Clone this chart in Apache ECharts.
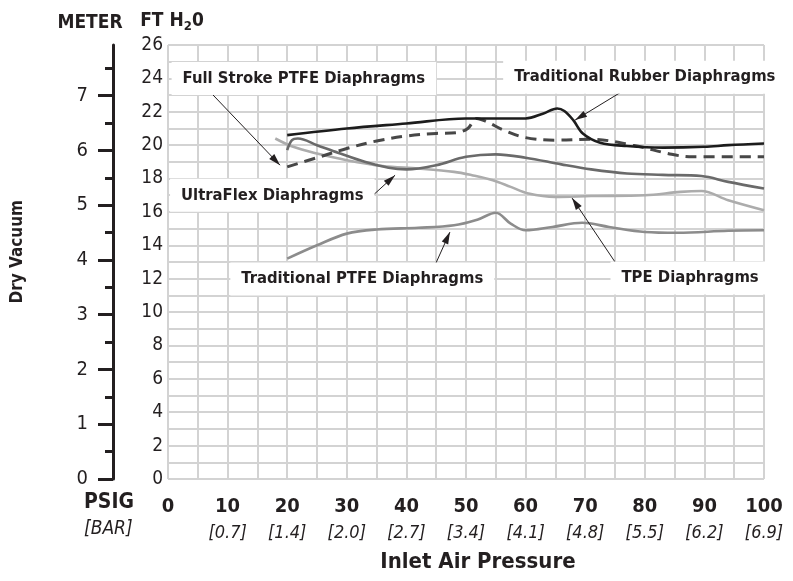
<!DOCTYPE html>
<html>
<head>
<meta charset="utf-8">
<script src="https://cdn.jsdelivr.net/npm/echarts@6/dist/echarts.min.js"></script>
<style>
  html, body { margin: 0; padding: 0; background: #fff; }
  #chart { width: 793px; height: 581px; }
</style>
</head>
<body>
<div id="chart"></div>
<script>
// Dry vacuum (ft of water) against inlet air pressure (psig) for five diaphragm types.
const FONT = "'Liberation Sans Narrow', 'DejaVu Sans Condensed', 'DejaVu Sans', sans-serif";
const FT_PER_METER = 3.28084;
const FT_MAX = 26;

const psigTicks = [0, 10, 20, 30, 40, 50, 60, 70, 80, 90, 100];
const barLabels = ['', '[0.7]', '[1.4]', '[2.0]', '[2.7]', '[3.4]', '[4.1]', '[4.8]', '[5.5]', '[6.2]', '[6.9]'];
const meterMajor = [0, 1, 2, 3, 4, 5, 6, 7];
const meterMinor = [0.5, 1.5, 2.5, 3.5, 4.5, 5.5, 6.5, 7.5];

// [psig, ft H2O]
const rubber = [[20, 20.6], [30, 21.0], [40, 21.3], [50, 21.6], [55, 21.6], [60, 21.6], [63, 21.9],
  [65.3, 22.2], [66.5, 22.05], [68, 21.5], [69.6, 20.7], [72.5, 20.15], [77, 19.95], [83, 19.85],
  [90, 19.9], [94, 20.0], [100, 20.1]];
const fullStroke = [[20, 18.7], [25, 19.25], [30, 19.8], [35, 20.25], [40, 20.55], [45, 20.7],
  [48.5, 20.75], [50.3, 21.0], [51.8, 21.6], [53.5, 21.4], [56.3, 20.9], [60, 20.45], [65, 20.3],
  [71, 20.35], [78, 20.0], [84.5, 19.45], [88, 19.3], [100, 19.3]];
const ultraFlex = [[20, 19.7], [20.8, 20.3], [21.8, 20.4], [25, 20.0], [28.5, 19.55], [33, 19.0],
  [37, 18.65], [40, 18.55], [45, 18.8], [50, 19.3], [55, 19.45], [60, 19.25], [66, 18.85],
  [71, 18.55], [77, 18.3], [83, 18.22], [89.5, 18.15], [94, 17.8], [100, 17.4]];
const tpe = [[18, 20.4], [21, 19.9], [25, 19.5], [30, 19.1], [36, 18.75], [42, 18.6], [48, 18.4],
  [51, 18.2], [54.5, 17.9], [57.5, 17.5], [60.5, 17.1], [65, 16.9], [71, 16.95], [80, 17.0],
  [86, 17.2], [89.5, 17.25], [94, 16.7], [100, 16.1]];
const tradPtfe = [[20, 13.2], [25, 14.0], [30, 14.7], [35, 14.95], [42, 15.05], [48, 15.2],
  [52, 15.55], [55, 15.95], [57.5, 15.3], [60, 14.9], [64.5, 15.1], [69.5, 15.35], [74, 15.1],
  [80, 14.8], [85.5, 14.75], [94, 14.87], [100, 14.9]];

// Callout text anchors and arrow (tail -> tip), in [psig, ft] coordinates
const calloutNames = ['Full Stroke PTFE Diaphragms', 'Traditional Rubber Diaphragms',
  'UltraFlex Diaphragms', 'Traditional PTFE Diaphragms', 'TPE Diaphragms'];
const calloutAt = [[22.8, 24.0], [80.0, 24.07], [17.5, 17.0], [32.6, 11.98], [87.6, 12.04]];
const arrowFrom = [[6.5, 23.4], [76.8, 23.35], [33.7, 16.77], [44.8, 12.81], [75.7, 12.63]];
const arrowTo = [[18.8, 18.8], [68.3, 21.5], [38.1, 18.2], [47.3, 14.79], [67.8, 16.83]];

const GRID_COLOR = '#d3d3d3';
const INK = '#231f20';

function curve(name, data, color, width, type) {
  return {
    name, type: 'line', data, smooth: 0.35, showSymbol: false, silent: true,
    lineStyle: { color, width, type: type || 'solid', cap: 'butt' },
    z: 3
  };
}

const chart = echarts.init(document.getElementById('chart'), null, { renderer: 'canvas' });

chart.setOption({
  animation: false,
  backgroundColor: '#fff',
  textStyle: { fontFamily: FONT, color: INK },
  grid: { left: 168, top: 45, width: 596, height: 434 },
  xAxis: {
    type: 'value', min: 0, max: 100, interval: 5,
    axisLine: { show: false }, axisTick: { show: false },
    splitLine: { show: true, lineStyle: { color: GRID_COLOR, width: 2 } },
    axisLabel: {
      margin: 14,
      formatter: v => {
        const i = psigTicks.indexOf(v);
        if (i < 0) return '';
        return `{p|${v}}\n{b|${barLabels[i] || ' '}}`;
      },
      rich: {
        p: { fontFamily: FONT, fontWeight: 'bold', fontSize: 20, lineHeight: 27, color: INK },
        b: { fontFamily: FONT, fontStyle: 'italic', fontSize: 18, lineHeight: 27, color: INK }
      }
    },
    name: 'Inlet Air Pressure', nameLocation: 'middle', nameGap: 72,
    nameTextStyle: { fontFamily: FONT, fontWeight: 'bold', fontSize: 22, color: INK, padding: [0, 0, 0, 24] }
  },
  yAxis: [
    {
      type: 'value', min: 0, max: FT_MAX, interval: 1, position: 'left',
      axisLine: { show: false }, axisTick: { show: false },
      splitLine: { show: true, lineStyle: { color: GRID_COLOR, width: 2 } },
      axisLabel: {
        margin: 5, fontFamily: FONT, fontSize: 19, color: INK,
        formatter: v => (v % 2 === 0 ? String(v) : '')
      },
      name: 'FT H{s|2}0', nameLocation: 'end', nameGap: 12,
      nameTextStyle: {
        fontFamily: FONT, fontWeight: 'bold', fontSize: 19, color: INK, padding: [0, 0, 0, 8],
        rich: { s: { fontFamily: FONT, fontWeight: 'bold', fontSize: 13, color: INK, padding: [10, 0, 0, 0] } }
      }
    },
    {
      type: 'value', min: 0, max: FT_MAX / FT_PER_METER, position: 'left', offset: 55,
      splitLine: { show: false },
      axisLine: { show: true, lineStyle: { color: INK, width: 3 } },
      axisTick: { show: true, length: 15, customValues: meterMajor, lineStyle: { color: INK, width: 3 } },
      axisLabel: { margin: 25, fontFamily: FONT, fontSize: 20, color: INK, customValues: meterMajor },
      name: 'METER', nameLocation: 'end', nameGap: 12,
      nameTextStyle: { fontFamily: FONT, fontWeight: 'bold', fontSize: 19, color: INK, padding: [0, 46, 0, 0] }
    },
    {
      type: 'value', min: 0, max: FT_MAX / FT_PER_METER, position: 'left', offset: 55,
      splitLine: { show: false }, axisLine: { show: false }, axisLabel: { show: false },
      axisTick: { show: true, length: 8, customValues: meterMinor, lineStyle: { color: INK, width: 3 } }
    }
  ],
  series: [
    curve('Traditional PTFE Diaphragms', tradPtfe, '#8c8c8c', 2.6),
    curve('TPE Diaphragms', tpe, '#acacac', 2.6),
    curve('UltraFlex Diaphragms', ultraFlex, '#6a6a6a', 2.6),
    curve('Full Stroke PTFE Diaphragms', fullStroke, '#474747', 3, [11, 7]),
    curve('Traditional Rubber Diaphragms', rubber, '#1c1c1c', 2.6),
    {
      name: 'callouts', type: 'scatter', silent: true, z: 5,
      symbolSize: 0,
      itemStyle: { opacity: 1 },
      data: calloutNames.map((n, i) => ({ name: n, value: calloutAt[i] })),
      label: {
        show: true, position: 'inside', formatter: p => p.name,
        fontFamily: FONT, fontWeight: 'bold', fontSize: 16.5, color: INK, opacity: 1,
        backgroundColor: '#fff', padding: [8, 11, 8, 11]
      },
      markLine: {
        silent: true, animation: false,
        symbol: ['none', 'triangle'], symbolSize: [7, 12], symbolOffset: [0, [0, 6]],
        lineStyle: { color: INK, width: 1, type: 'solid', opacity: 1 },
        label: { show: false },
        emphasis: { disabled: true },
        data: arrowFrom.map((a, i) => [{ coord: a }, { coord: arrowTo[i] }])
      }
    }
  ],
  graphic: [
    {
      type: 'text', left: 84, top: 492,
      style: { text: 'PSIG', font: `bold 21px ${FONT}`, fill: INK }
    },
    {
      type: 'text', left: 84, top: 520,
      style: { text: '[BAR]', font: `italic 19px ${FONT}`, fill: INK }
    },
    {
      type: 'text', left: 9, top: 200, rotation: Math.PI / 2, originX: 0, originY: 0,
      style: { text: 'Dry Vacuum', font: `bold 17px ${FONT}`, fill: INK }
    }
  ]
});
</script>
</body>
</html>
